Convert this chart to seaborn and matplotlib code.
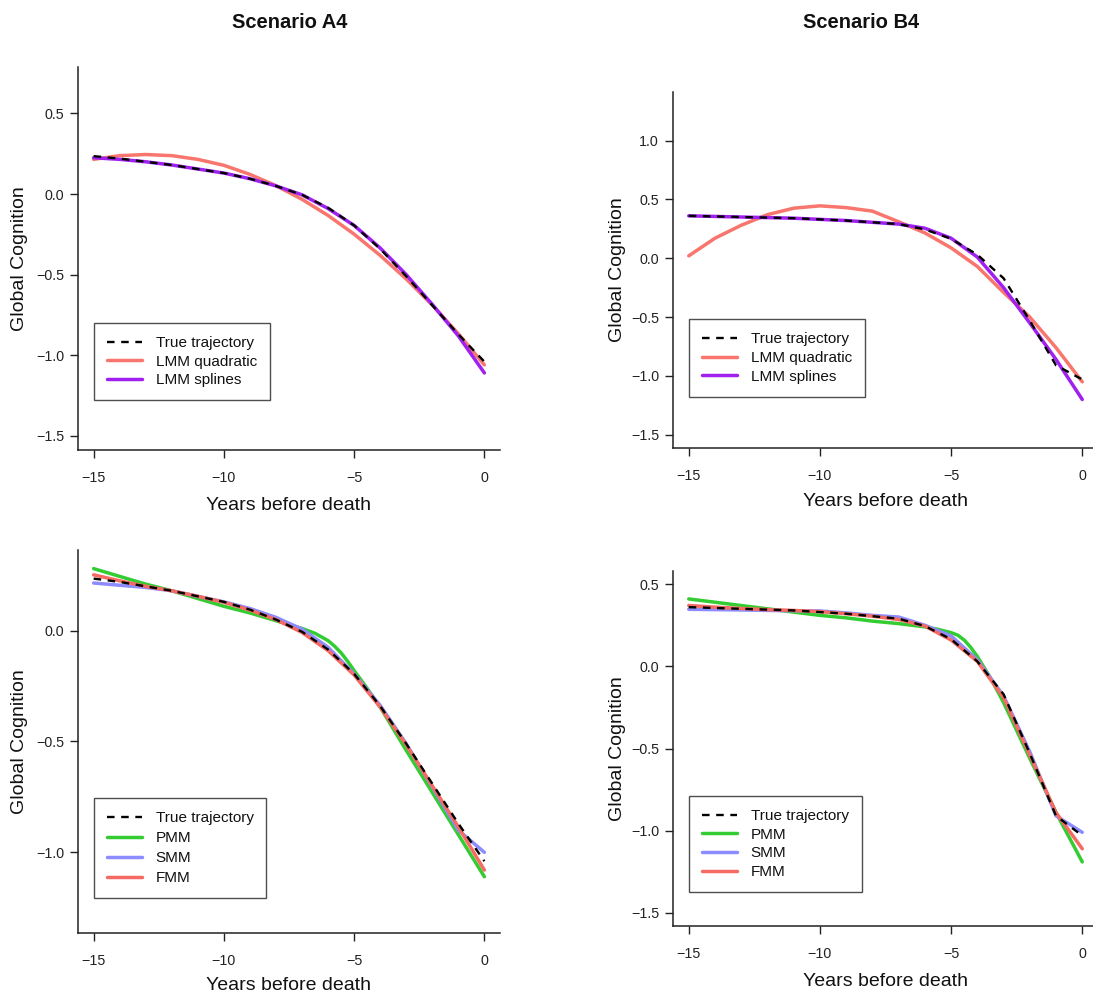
import numpy as np
import pandas as pd
import matplotlib
matplotlib.use("Agg")
import matplotlib.pyplot as plt
import seaborn as sns

sns.set_style("white")
plt.rcParams['font.family'] = ['Liberation Sans', 'DejaVu Sans']

# ---------------- data ----------------
years = [-15, -14, -13, -12, -11, -10, -9, -8, -7, -6, -5, -4, -3, -2, -1, 0]

# Scenario A4
true_a4 = [0.235, 0.22, 0.20, 0.18, 0.155, 0.13, 0.095, 0.05, -0.005, -0.085,
           -0.195, -0.34, -0.51, -0.69, -0.87, -1.04]
lmm_quad_a4 = [0.215, 0.238, 0.245, 0.238, 0.215, 0.178, 0.122, 0.052, -0.033, -0.133,
               -0.249, -0.381, -0.527, -0.689, -0.867, -1.06]
lmm_spl_a4 = [0.225, 0.215, 0.20, 0.18, 0.155, 0.13, 0.095, 0.05, -0.005, -0.09,
              -0.195, -0.335, -0.50, -0.685, -0.88, -1.11]
pmm_a4_years = [-15, -14, -13, -12, -11, -10, -9, -8, -7.5, -7, -6.5, -6, -5.75,
                -5.5, -5.25, -5, -4.5, -4, -3, -2, -1, 0]
pmm_a4 = [0.28, 0.245, 0.21, 0.18, 0.145, 0.11, 0.08, 0.045, 0.027, 0.01, -0.012,
          -0.045, -0.07, -0.10, -0.138, -0.18, -0.26, -0.345, -0.54, -0.73, -0.92, -1.11]
smm_a4 = [0.215, 0.205, 0.195, 0.18, 0.155, 0.13, 0.10, 0.06, 0.007, -0.075,
          -0.195, -0.337, -0.51, -0.705, -0.90, -1.00]
fmm_a4 = [0.252, 0.225, 0.20, 0.18, 0.155, 0.128, 0.093, 0.05, -0.008, -0.09,
          -0.20, -0.345, -0.515, -0.70, -0.885, -1.08]

# Scenario B4
true_b4 = [0.36, 0.355, 0.35, 0.345, 0.34, 0.33, 0.32, 0.305, 0.29, 0.245,
           0.165, 0.03, -0.17, -0.53, -0.91, -1.03]
lmm_quad_b4 = [0.02, 0.17, 0.28, 0.37, 0.425, 0.445, 0.43, 0.40, 0.31, 0.215,
               0.088, -0.07, -0.29, -0.50, -0.76, -1.05]
lmm_spl_b4 = [0.36, 0.355, 0.35, 0.345, 0.34, 0.33, 0.32, 0.305, 0.29, 0.255,
              0.17, 0.01, -0.25, -0.55, -0.86, -1.20]
pmm_b4_years = [-15, -14, -13, -12, -11, -10, -9, -8, -7, -6, -5.5, -5, -4.75,
                -4.5, -4.25, -4, -3.5, -3, -2, -1, 0]
pmm_b4 = [0.41, 0.39, 0.37, 0.35, 0.33, 0.31, 0.295, 0.275, 0.26, 0.24, 0.225,
          0.205, 0.19, 0.16, 0.115, 0.06, -0.07, -0.22, -0.56, -0.89, -1.19]
smm_b4 = [0.347, 0.345, 0.343, 0.34, 0.338, 0.337, 0.325, 0.31, 0.30, 0.25,
          0.185, 0.04, -0.18, -0.52, -0.91, -1.01]
fmm_b4 = [0.37, 0.36, 0.352, 0.345, 0.34, 0.333, 0.32, 0.305, 0.285, 0.245,
          0.16, 0.03, -0.19, -0.54, -0.89, -1.11]

titles = ["Scenario A4", "Scenario B4"]
x_ticks = [-15, -10, -5, 0]

# ---------------- style ----------------
C_TRUE = "black"
C_QUAD = "#F8766D"
C_SPL = "#A020F0"
C_PMM = "#33CC33"
C_SMM = "#8C8CFF"
C_FMM = "#F56A62"

W, H = 1093, 1002
fig = plt.figure(figsize=(W / 100, H / 100), dpi=100)


def add_axes(px_left, px_top, px_right, px_bottom):
    return fig.add_axes([px_left / W, 1 - px_bottom / H,
                         (px_right - px_left) / W, (px_bottom - px_top) / H])


def style_axes(ax, ylim, yticks, ylab_px_x, xlab_off_px, ax_px):
    ax.set_xlim(-15.6, 0.6)
    lo, hi = ylim
    r = hi - lo
    ax.set_ylim(lo - 0.04 * r, hi + 0.04 * r)
    ax.set_xticks(x_ticks)
    ax.set_xticklabels([f"{t}".replace("-", "\u2212") for t in x_ticks])
    ax.set_yticks(yticks)
    ax.set_yticklabels([f"{t:.1f}".replace("-", "\u2212") for t in yticks])
    for s in ["top", "right"]:
        ax.spines[s].set_visible(False)
    for s in ["left", "bottom"]:
        ax.spines[s].set_color("#222222")
        ax.spines[s].set_linewidth(1.1)
    ax.tick_params(axis="both", direction="out", length=6, width=1.0,
                   color="#222222", labelsize=10.3, labelcolor="#222222",
                   left=True, bottom=True)
    ax.tick_params(axis="x", pad=9)
    ax.tick_params(axis="y", pad=4)
    ax.grid(False)
    left, top, right, bottom = ax_px
    ax.set_xlabel("Years before death", fontsize=14, color="#111111")
    ax.set_ylabel("Global Cognition", fontsize=14, color="#111111")
    ax.xaxis.set_label_coords(0.5, -xlab_off_px / (bottom - top))
    ax.xaxis.label.set_va("center")
    ax.yaxis.set_label_coords((ylab_px_x - left) / (right - left), 0.5)
    ax.yaxis.label.set_va("center")


def draw(ax, series, legend_top, lspacing=0.3):
    for name, xs, vals, col, dashed in series:
        df = pd.DataFrame({"year": xs, "val": vals})
        if dashed:
            sns.lineplot(data=df, x="year", y="val", ax=ax, color=col, lw=1.7,
                         linestyle=(0, (3.2, 2.8)), label=name, zorder=5)
        else:
            sns.lineplot(data=df, x="year", y="val", ax=ax, color=col, lw=2.5,
                         label=name, zorder=3)
    leg = ax.legend(loc="upper left", bbox_to_anchor=(-15, legend_top),
                    bbox_transform=ax.transData, borderaxespad=0,
                    fontsize=11, frameon=True, fancybox=False,
                    handlelength=2.3, handletextpad=0.9, labelspacing=lspacing,
                    borderpad=0.85)
    leg.get_frame().set_edgecolor("#222222")
    leg.get_frame().set_linewidth(1.0)
    for t in leg.get_texts():
        t.set_color("#111111")


# Top-left
px = (78, 67, 500, 450)
ax1 = add_axes(*px)
draw(ax1, [("True trajectory", years, true_a4, C_TRUE, True),
           ("LMM quadratic", years, lmm_quad_a4, C_QUAD, False),
           ("LMM splines", years, lmm_spl_a4, C_SPL, False)], -0.80)
style_axes(ax1, (-1.5, 0.7), [-1.5, -1.0, -0.5, 0.0, 0.5], 20, 55, px)

# Top-right
px = (673, 92, 1098, 448)
ax2 = add_axes(*px)
draw(ax2, [("True trajectory", years, true_b4, C_TRUE, True),
           ("LMM quadratic", years, lmm_quad_b4, C_QUAD, False),
           ("LMM splines", years, lmm_spl_b4, C_SPL, False)], -0.52)
style_axes(ax2, (-1.5, 1.3), [-1.5, -1.0, -0.5, 0.0, 0.5, 1.0], 617, 54, px)

# Bottom-left
px = (78, 550, 500, 933)
ax3 = add_axes(*px)
draw(ax3, [("True trajectory", years, true_a4, C_TRUE, True),
           ("PMM", pmm_a4_years, pmm_a4, C_PMM, False),
           ("SMM", years, smm_a4, C_SMM, False),
           ("FMM", years, fmm_a4, C_FMM, False)], -0.757, lspacing=0.38)
style_axes(ax3, (-1.3, 0.3), [-1.0, -0.5, 0.0], 20, 52, px)

# Bottom-right
px = (673, 571, 1098, 926)
ax4 = add_axes(*px)
draw(ax4, [("True trajectory", years, true_b4, C_TRUE, True),
           ("PMM", pmm_b4_years, pmm_b4, C_PMM, False),
           ("SMM", years, smm_b4, C_SMM, False),
           ("FMM", years, fmm_b4, C_FMM, False)], -0.79)
style_axes(ax4, (-1.5, 0.5), [-1.5, -1.0, -0.5, 0.0, 0.5], 617, 55, px)

fig.text(290 / W, 1 - 22 / H, titles[0], ha="center", va="center",
         fontsize=14.5, fontweight="bold", color="#111111")
fig.text(861 / W, 1 - 22 / H, titles[1], ha="center", va="center",
         fontsize=14.5, fontweight="bold", color="#111111")

fig.savefig("out.png", dpi=100, facecolor="white")
